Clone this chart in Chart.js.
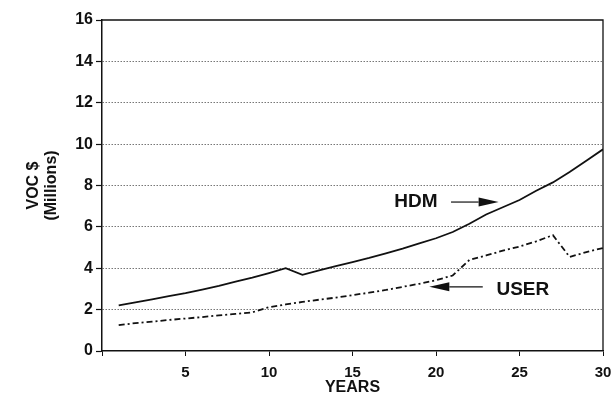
<!DOCTYPE html>
<html>
<head>
<meta charset="utf-8">
<script src="https://cdn.jsdelivr.net/npm/chart.js@4/dist/chart.umd.min.js"></script>
<style>
  html, body { margin: 0; padding: 0; background: #fff; }
  #wrap { width: 615px; height: 394px; }
</style>
</head>
<body>
<div id="wrap"><canvas id="c" width="615" height="394"></canvas></div>
<script>
// ---- data ----
const years = [1,2,3,4,5,6,7,8,9,10,11,12,13,14,15,16,17,18,19,20,21,22,23,24,25,26,27,28,29,30];
const hdm  = [2.2,2.35,2.5,2.65,2.8,2.97,3.15,3.35,3.55,3.77,4.0,3.68,3.9,4.1,4.3,4.5,4.72,4.95,5.2,5.45,5.75,6.15,6.6,6.95,7.3,7.75,8.15,8.65,9.2,9.75];
const user = [1.25,1.35,1.42,1.5,1.57,1.64,1.72,1.79,1.87,2.12,2.25,2.37,2.48,2.58,2.7,2.82,2.95,3.1,3.25,3.42,3.65,4.4,4.62,4.85,5.05,5.3,5.6,4.55,4.78,4.98];
const seriesNames = ['HDM', 'USER'];
const xTicks = [5,10,15,20,25,30];
const yTicks = [0,2,4,6,8,10,12,14,16];
const xTitle = 'YEARS';
const yTitle = ['VOC $', '(Millions)'];

const FONT = "'Liberation Sans', Arial, Helvetica, sans-serif";

// annotation labels with arrows (in data coordinates)
const notes = [
  { text: 'HDM',  tx: 18.8, ty: 7.2, ax1: 20.9, ax2: 23.75, ay: 7.2 },
  { text: 'USER', tx: 25.2, ty: 2.95, ax1: 22.8, ax2: 19.6, ay: 3.1 }
];

const framePlugin = {
  id: 'frame',
  beforeDraw(chart) {
    const ctx = chart.ctx;
    ctx.save();
    ctx.fillStyle = '#fff';
    ctx.fillRect(0, 0, chart.width, chart.height);
    ctx.restore();
  },
  afterDraw(chart) {
    const {ctx, chartArea: a, scales} = chart;
    ctx.save();
    ctx.strokeStyle = '#111';
    ctx.lineWidth = 1.3;
    ctx.beginPath();
    ctx.moveTo(a.left, a.top);
    ctx.lineTo(a.right, a.top);
    ctx.lineTo(a.right, a.bottom);
    ctx.stroke();
    // annotations
    const xs = scales.x, ys = scales.y;
    ctx.fillStyle = '#111';
    ctx.font = 'bold 19px ' + FONT;
    ctx.textAlign = 'center';
    ctx.textBaseline = 'middle';
    notes.forEach(n => {
      ctx.fillText(n.text, xs.getPixelForValue(n.tx), ys.getPixelForValue(n.ty));
      const x1 = xs.getPixelForValue(n.ax1), x2 = xs.getPixelForValue(n.ax2), y = ys.getPixelForValue(n.ay);
      const dir = Math.sign(x2 - x1);
      const headLen = 20, headH = 4.5;
      ctx.lineWidth = 1.2;
      ctx.beginPath();
      ctx.moveTo(x1, y);
      ctx.lineTo(x2 - dir * headLen, y);
      ctx.stroke();
      ctx.beginPath();
      ctx.moveTo(x2, y);
      ctx.lineTo(x2 - dir * headLen, y - headH);
      ctx.lineTo(x2 - dir * headLen, y + headH);
      ctx.closePath();
      ctx.fill();
    });
    ctx.restore();
  }
};

new Chart(document.getElementById('c'), {
  type: 'line',
  data: {
    datasets: [
      {
        label: seriesNames[0],
        data: years.map((x, i) => ({x, y: hdm[i]})),
        borderColor: '#111',
        borderWidth: 1.8,
        pointRadius: 0,
        tension: 0,
        fill: false
      },
      {
        label: seriesNames[1],
        data: years.map((x, i) => ({x, y: user[i]})),
        borderColor: '#111',
        borderWidth: 1.8,
        borderDash: [6, 3, 2, 3],
        pointRadius: 0,
        tension: 0,
        fill: false
      }
    ]
  },
  options: {
    responsive: false,
    animation: false,
    devicePixelRatio: 1,
    layout: { padding: { top: 20, right: 12, left: 0, bottom: 0 } },
    plugins: { legend: { display: false }, tooltip: { enabled: false } },
    scales: {
      x: {
        type: 'linear',
        min: 0, max: 30,
        afterFit(s) { s.height = 43; s.paddingRight = 0; s.paddingLeft = 0; },
        afterBuildTicks(s) { s.ticks = [0].concat(xTicks).map(v => ({value: v})); },
        ticks: {
          color: '#111',
          font: { family: FONT, size: 15, weight: 'bold', lineHeight: 1.0 },
          padding: 9,
          maxRotation: 0,
          autoSkip: false,
          callback: v => (v === 0 ? '' : String(v))
        },
        grid: { drawOnChartArea: false, drawTicks: true, tickLength: 5, tickColor: '#111', tickWidth: 1 },
        border: { display: true, color: '#111', width: 1.5 },
        title: {
          display: true, text: xTitle, color: '#111',
          font: { family: FONT, size: 16, weight: 'bold', lineHeight: 0.75 },
          padding: { top: 0, bottom: 0 }
        }
      },
      y: {
        type: 'linear',
        min: 0, max: 16,
        afterFit(s) { s.width = 102; },
        afterBuildTicks(s) { s.ticks = yTicks.map(v => ({value: v})); },
        ticks: {
          color: '#111',
          font: { family: FONT, size: 16, weight: 'bold' },
          padding: 3
        },
        grid: {
          drawOnChartArea: true, drawTicks: true, tickLength: 6,
          color: ctx => (ctx.tick && (ctx.tick.value === 0 || ctx.tick.value === 16)) ? 'rgba(0,0,0,0)' : '#777',
          lineWidth: 1, tickColor: '#111', tickWidth: 1.2
        },
        border: { display: true, color: '#111', width: 1.5, dash: [1.5, 1.5] },
        title: {
          display: true, text: yTitle, color: '#111',
          font: { family: FONT, size: 16, weight: 'bold', lineHeight: 1.125 },
          padding: { top: 25, bottom: 0 }
        }
      }
    }
  },
  plugins: [framePlugin]
});
</script>
</body>
</html>
